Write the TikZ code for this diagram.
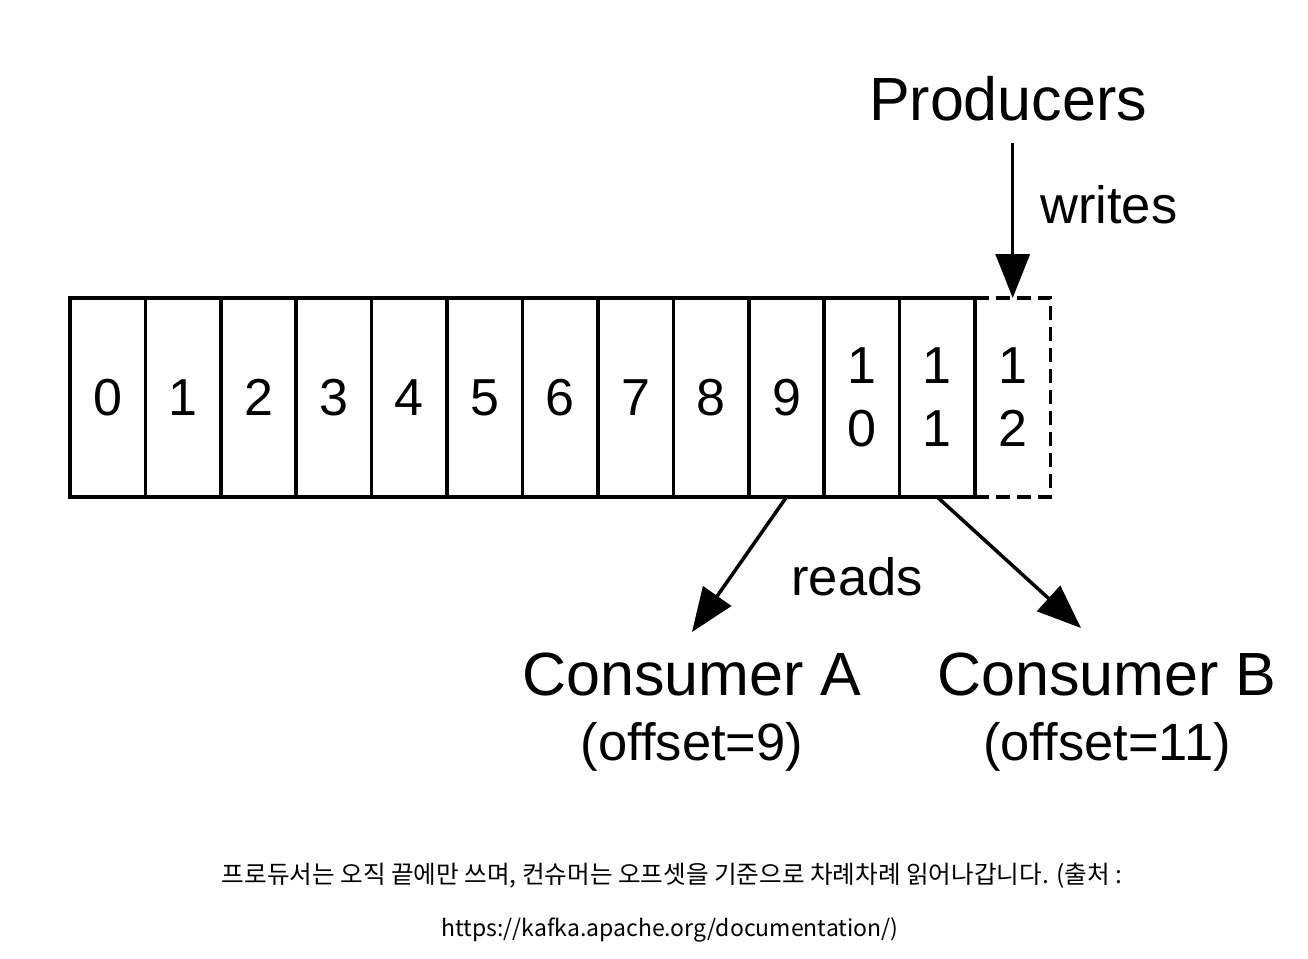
\documentclass[tikz,border=0pt]{standalone}
\usepackage{fontspec}
\setmainfont{Liberation Sans}
\newfontfamily\krfont{Noto Sans CJK KR}
\usepackage{tikz}
\usetikzlibrary{arrows.meta}
\usetikzlibrary{positioning}
\tikzset{
    cell/.style={
        draw,
        line width=3.5pt,
        minimum width=75.4pt,
        minimum height=199pt,
        inner sep=0pt,
        outer sep=0pt,
        align=center,
        font=\fontsize{52}{63}\selectfont
    },
    newcell/.style={
        cell,
        dash pattern=on 14pt off 7pt
    },
    actor/.style={inner sep=0pt, font=\fontsize{61}{66}\selectfont},
    verb/.style={inner sep=0pt, font=\fontsize{52.5}{58}\selectfont},
    source/.style={inner sep=0pt, font=\krfont\fontsize{23}{28}\selectfont},
    flow/.style={
        draw,
        line width=3.5pt,
        -{Triangle[length=44pt, width=34pt]}
    }
}

\begin{document}
\begin{tikzpicture}[x=1pt, y=-1pt]
  \fill[white] (0,0) rectangle (1308,958);
  \useasboundingbox (0,0) rectangle (1308,958);

  % Next offset, not yet written
  \node[newcell] (c12) at (1012.7,397.5) {1\\2};

  % Log of records
  \node[cell] (c0) at (107.7,397.5) {0};
  \node[cell] (c1) at (183.1,397.5) {1};
  \node[cell] (c2) at (258.5,397.5) {2};
  \node[cell] (c3) at (333.9,397.5) {3};
  \node[cell] (c4) at (409.4,397.5) {4};
  \node[cell] (c5) at (484.8,397.5) {5};
  \node[cell] (c6) at (560.2,397.5) {6};
  \node[cell] (c7) at (635.6,397.5) {7};
  \node[cell] (c8) at (711.0,397.5) {8};
  \node[cell] (c9) at (786.5,397.5) {9};
  \node[cell] (c10) at (861.9,397.5) {1\\0};
  \node[cell] (c11) at (937.3,397.5) {1\\1};

  % Producers write at the end
  \node[actor, anchor=base] (prod) at (1008,120) {Producers};
  \node[verb, anchor=base west] (writes) at (1040,223) {writes};
  \coordinate (wsrc) at (1012.7,143);
  \draw[flow] (wsrc) -- (c12.north);

  % Consumers read by offset
  \node[verb, anchor=base] (reads) at (857,595) {reads};
  \node[actor, anchor=base] (consA) at (692,695) {Consumer A};
  \node[verb, anchor=base] (offA) at (692,760) {(offset=9)};
  \node[actor, anchor=base] (consB) at (1107,695) {Consumer B};
  \node[verb, anchor=base] (offB) at (1107,760) {(offset=11)};
  \coordinate (tipA) at (692,632);
  \coordinate (tipB) at (1081,628);
  \draw[flow] (c9.south) -- (tipA);
  \draw[flow] (c11.south) -- (tipB);

  % Caption
  \node[source, font=\krfont\fontsize{24.6}{28}\selectfont] (cap1) at (672,876) {프로듀서는 오직 끝에만 쓰며, 컨슈머는 오프셋을 기준으로 차례차례 읽어나갑니다. (출처 :};
  \node[source] (cap2) at (670,930) {https://kafka.apache.org/documentation/)};
\end{tikzpicture}
\end{document}
